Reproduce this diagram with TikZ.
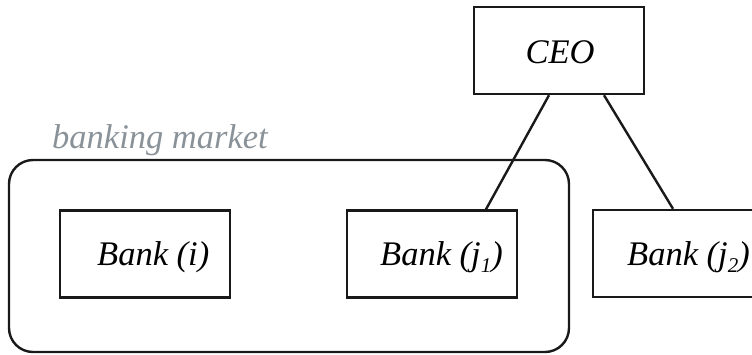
\documentclass[tikz,border=0pt]{standalone}
\usepackage{fontspec}
\setmainfont{Liberation Serif}
\definecolor{labelgray}{HTML}{8A9299}
% lowered subscript index
\newcommand{\idx}[1]{\raisebox{-0.45ex}{\fontsize{21}{22}\selectfont #1}}
\begin{document}
\begin{tikzpicture}[x=1pt,y=-1pt,
  box/.style={draw=black!90, line width=2.4pt, rectangle, inner sep=0pt,
    minimum width=170pt, minimum height=87pt},
  txt/.style={font=\fontsize{34.5}{38}\selectfont\itshape, inner sep=0pt, anchor=base west},
  link/.style={draw=black!90, line width=2.4pt}]
\useasboundingbox (0,0) rectangle (752,354);
\clip (0,0) rectangle (752,354);

% market frame and its caption
\draw[line width=2.4pt, draw=black!90, rounded corners=24pt] (9,160) rectangle (569,352);
\node[txt, text=labelgray] (mkt) at (52,148) {banking market};

% boxes
\node[box] (ceo) at (559,50.5) {};
\node[box] (bi)  at (145,254) {};
\node[box] (bj1) at (432,254) {};
\node[box] (bj2) at (678,253.5) {};

% labels
\node[txt, anchor=base] (tceo) at (560,63) {CEO};
\node[txt] (tbi)  at (97,265)  {Bank (i)};
\node[txt] (tbj1) at (380,265) {Bank (j\idx{1})};
\node[txt] (tbj2) at (627,265) {Bank (j\idx{2})};

% reporting lines
\draw[link] ([xshift=-10pt]ceo.south) -- ([xshift=54pt]bj1.north);
\draw[link] ([xshift=45pt]ceo.south) -- ([xshift=-5pt]bj2.north);
\end{tikzpicture}
\end{document}
